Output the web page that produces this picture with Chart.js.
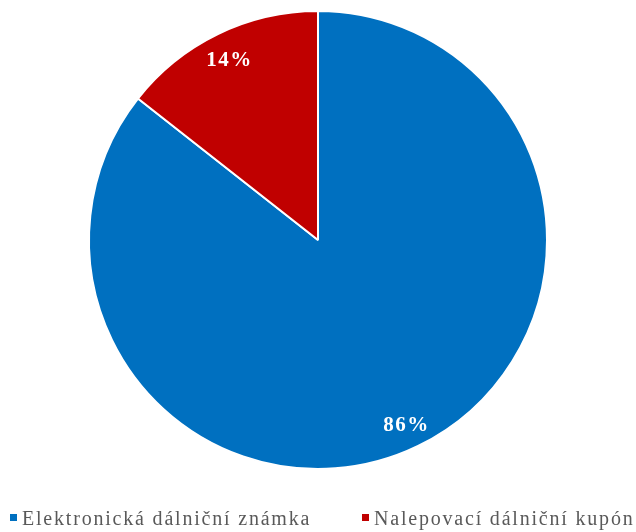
<!DOCTYPE html>
<html>
<head>
<meta charset="utf-8">
<script src="https://cdn.jsdelivr.net/npm/chart.js@4"></script>
<style>
  html, body { margin: 0; padding: 0; background: #fff; }
  #wrap { width: 636px; height: 532px; }
</style>
</head>
<body>
<div id="wrap"><canvas id="myChart"></canvas></div>
<script>
var labels = ["Elektronická dálniční známka", "Nalepovací dálniční kupón"];
var values = [85.6, 14.4];
var colors = ["#0070C0", "#C00000"];

var serifFont = "'Liberation Serif', 'Times New Roman', 'DejaVu Serif', serif";

// percentage text inside each slice
var sliceLabels = {
    id: "sliceLabels",
    afterDatasetsDraw: function (chart) {
        var ctx = chart.ctx;
        var meta = chart.getDatasetMeta(0);
        var total = values.reduce(function (a, b) { return a + b; }, 0);
        ctx.save();
        ctx.font = "bold 21px " + serifFont;
        ctx.letterSpacing = "1.5px";
        ctx.fillStyle = "#ffffff";
        ctx.textAlign = "center";
        ctx.textBaseline = "middle";
        meta.data.forEach(function (arc, i) {
            var mid = (arc.startAngle + arc.endAngle) / 2;
            var r = arc.outerRadius * 0.885;
            var x = arc.x + Math.cos(mid) * r;
            var y = arc.y + Math.sin(mid) * r + 3;
            ctx.fillText(Math.round(values[i] / total * 100) + "%", x, y);
        });
        ctx.restore();
    }
};

// legend along the bottom, spaced like the office chart
var bottomLegend = {
    id: "bottomLegend",
    afterDraw: function (chart) {
        var ctx = chart.ctx;
        var starts = [10, 362];
        var baseline = 525;
        ctx.save();
        ctx.font = "20px " + serifFont;
        ctx.letterSpacing = "1.8px";
        ctx.textBaseline = "alphabetic";
        ctx.textAlign = "left";
        labels.forEach(function (lab, i) {
            ctx.fillStyle = colors[i];
            ctx.fillRect(starts[i], baseline - 11, 7, 7);
            ctx.fillStyle = "#595959";
            ctx.fillText(lab, starts[i] + 12, baseline);
        });
        ctx.restore();
    }
};

var chart = new Chart("myChart", {
    type: "pie",
    data: {
        labels: labels,
        datasets: [{
            data: values,
            backgroundColor: colors,
            borderColor: "#ffffff",
            borderWidth: 2
        }]
    },
    options: {
        responsive: true,
        maintainAspectRatio: false,
        animation: false,
        layout: { padding: { top: 10, bottom: 62, left: 0, right: 0 } },
        plugins: {
            tooltip: { enabled: false },
            legend: { display: false }
        }
    },
    plugins: [sliceLabels, bottomLegend]
});
</script>
</body>
</html>
